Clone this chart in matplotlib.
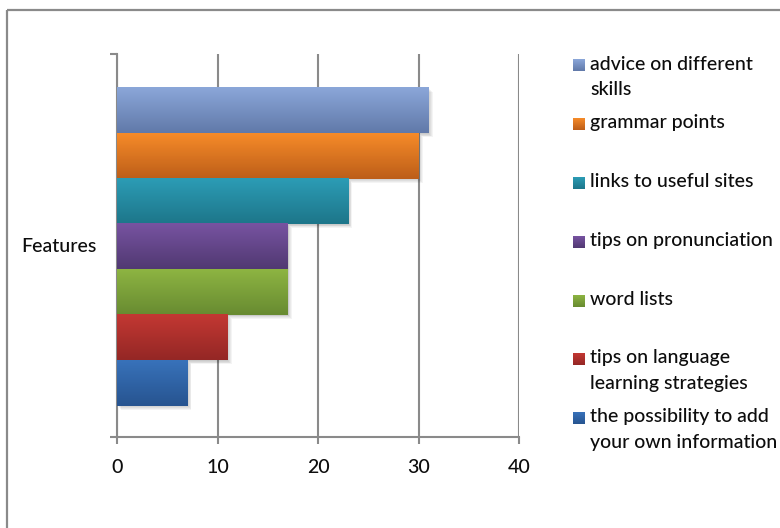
import numpy as np
import matplotlib
matplotlib.use("Agg")
import matplotlib.pyplot as plt
from matplotlib.colors import LinearSegmentedColormap
from matplotlib.patches import Rectangle
import matplotlib.transforms as mtransforms

# ---- data ----
category = "Features"
series_names = [
    "advice on different\nskills",
    "grammar points",
    "links to useful sites",
    "tips on pronunciation",
    "word lists",
    "tips on language\nlearning strategies",
    "the possibility to add\nyour own information",
]
values = [31, 30, 23, 17, 17, 11, 7]
x_ticks = [0, 10, 20, 30, 40]
top_colors = ["#8ba7d9", "#f68b29", "#2c9cb5", "#7753a1", "#8db442", "#c33833", "#3872ba"]
bottom_colors = ["#6179a9", "#bd5e19", "#1d768a", "#513972", "#688b31", "#942725", "#275490"]

plt.rcParams['font.family'] = ['Lato', 'DejaVu Sans']
plt.rcParams['font.weight'] = 500
TEXT = "#0d0d0d"
GRID = "#8a8a8a"

W, H = 780, 528
fig = plt.figure(figsize=(W / 100, H / 100), dpi=100)

# overlay in pixel units for the chart border and the legend
over = fig.add_axes([0, 0, 1, 1], zorder=0)
over.set_xlim(0, W)
over.set_ylim(H, 0)
over.axis("off")
over.add_patch(Rectangle((7, 10), W + 20, H + 20, fill=False,
                         edgecolor=GRID, linewidth=1.6))

# plot area
ax = fig.add_axes([117 / W, 1 - 437 / H, (519 - 117) / W, (437 - 54) / H], zorder=1)
ax.patch.set_alpha(0)

n = len(values)
band = 0.83
h = band / n
center = 0.497
top_edge = center + band / 2

grad = np.linspace(0, 1, 64).reshape(-1, 1)

# soft drop shadows
for i, v in enumerate(values):
    y1 = top_edge - i * h
    y0 = y1 - h
    for k in range(1, 6):
        tr = mtransforms.offset_copy(ax.transData, fig=fig, x=k * 0.8, y=-k * 0.8, units="dots")
        ax.add_patch(Rectangle((0, y0), v, h, facecolor="black", alpha=0.045,
                               edgecolor="none", transform=tr, zorder=2))

# gradient bars
for i, v in enumerate(values):
    y1 = top_edge - i * h
    y0 = y1 - h
    cmap = LinearSegmentedColormap.from_list(f"c{i}", [top_colors[i], bottom_colors[i]])
    ax.imshow(grad, extent=(0, v, y0, y1), aspect="auto", cmap=cmap,
              origin="upper", interpolation="bilinear", zorder=3)

ax.set_xlim(0, 40)
ax.set_ylim(0, 1)
ax.set_xticks(x_ticks)
ax.set_xticklabels([str(t) for t in x_ticks], fontsize=14, color=TEXT)
ax.set_yticks([0, 1])
ax.set_yticklabels(["", ""])
ax.grid(axis="x", color=GRID, linewidth=1.5, zorder=1)
ax.set_axisbelow(True)
for s in ["top", "right"]:
    ax.spines[s].set_visible(False)
for s in ["left", "bottom"]:
    ax.spines[s].set_color(GRID)
    ax.spines[s].set_linewidth(1.5)
ax.tick_params(axis="x", direction="out", length=5, width=1.5, color=GRID, pad=11)
ax.tick_params(axis="y", direction="out", length=5, width=1.5, color=GRID)

ax.annotate(category, xy=(0, center), xycoords="axes fraction",
            xytext=(-20, 0), textcoords="offset pixels",
            ha="right", va="center", fontsize=14, color=TEXT)

# legend
for i, name in enumerate(series_names):
    y = 65.5 + i * 58.8
    cmap = LinearSegmentedColormap.from_list(f"l{i}", [top_colors[i], bottom_colors[i]])
    over.imshow(grad, extent=(573, 585, y + 6, y - 6), aspect="auto", cmap=cmap,
                origin="upper", interpolation="bilinear")
    over.text(590, y - 10, name, ha="left", va="top", fontsize=14,
              color=TEXT, linespacing=1.6)
over.set_xlim(0, W)
over.set_ylim(H, 0)

fig.savefig("out.png", dpi=100)
